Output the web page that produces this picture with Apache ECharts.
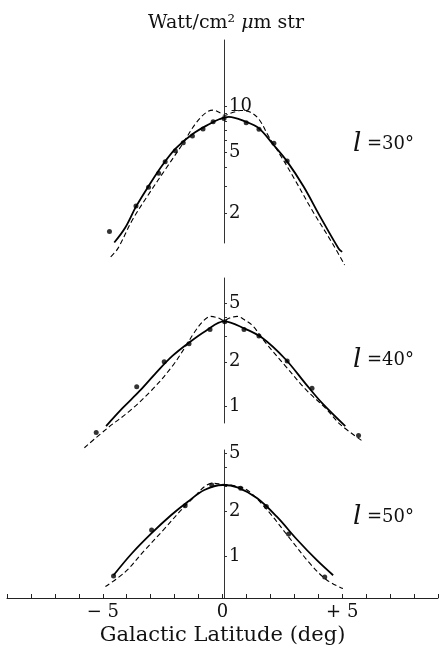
<!DOCTYPE html>
<html>
<head>
<meta charset="utf-8">
<script src="https://cdn.jsdelivr.net/npm/echarts@6.0.0/dist/echarts.min.js"></script>
<style>
  html, body { margin: 0; padding: 0; background: #fff; }
  #chart { width: 441px; height: 655px; }
</style>
</head>
<body>
<div id="chart"></div>
<script>
// galactic latitude axis
const latTicks = [-5, 0, 5]
const latLabels = ['− 5', '0', '+ 5']

// l = 30°
const yTicks30 = [2, 3, 4, 5, 6, 7, 8, 9, 10]
const yLabels30 = [2, 5, 10]
const obs30 = [[-4.75, 1.53], [-3.65, 2.24], [-3.13, 2.97], [-2.71, 3.66], [-2.44, 4.35], [-2.02, 5.13],
  [-1.69, 5.78], [-1.31, 6.39], [-0.87, 7.09], [-0.45, 7.91], [0, 8.3], [0.92, 7.79], [1.45, 7.06],
  [2.07, 5.72], [2.62, 4.39]]
const fit30 = [[-4.55, 1.3], [-4.1, 1.62], [-3.65, 2.22], [-3.1, 3.07], [-2.55, 4.14], [-2.0, 5.31],
  [-1.3, 6.58], [-0.6, 7.64], [-0.2, 8.2], [0.2, 8.5], [0.9, 7.9], [1.45, 7.15], [2.05, 5.6], [2.6, 4.4],
  [3.3, 3.0], [4.0, 1.9], [4.75, 1.19], [4.9, 1.13]]
const model30 = [[-4.7, 1.05], [-4.4, 1.19], [-3.8, 1.82], [-3.1, 2.71], [-2.4, 3.94], [-1.7, 5.72],
  [-1.2, 7.6], [-0.75, 9.05], [-0.45, 9.4], [-0.15, 9.0], [0, 8.7], [0.3, 9.0], [0.7, 9.35], [1.1, 9.1],
  [1.45, 8.2], [1.85, 6.35], [2.3, 4.9], [2.95, 3.3], [3.65, 2.11], [4.5, 1.28], [5.0, 0.93]]

// l = 40°
const yTicks40 = [1, 2, 3, 4, 5]
const yLabels40 = [1, 2, 5]
const obs40 = [[-5.3, 0.66], [-3.62, 1.35], [-2.48, 2.0], [-1.45, 2.65], [-0.58, 3.32], [0.03, 3.75],
  [0.83, 3.32], [1.45, 2.99], [2.62, 2.02], [3.65, 1.32], [5.58, 0.63]]
const fit40 = [[-4.89, 0.73], [-4.2, 0.97], [-3.51, 1.26], [-2.82, 1.68], [-2.14, 2.19], [-1.45, 2.7],
  [-0.76, 3.24], [0, 3.76], [0.83, 3.38], [1.58, 2.91], [2.55, 2.08], [3.38, 1.42], [4.06, 1.05], [5.03, 0.73]]
const model40 = [[-5.79, 0.52], [-4.82, 0.71], [-3.93, 0.92], [-2.96, 1.3], [-2.14, 1.87], [-1.58, 2.56],
  [-1.24, 3.15], [-0.86, 3.79], [-0.55, 4.07], [-0.2, 3.95], [0, 3.8], [0.2, 3.95], [0.55, 4.07],
  [0.86, 3.85], [1.2, 3.5], [1.72, 2.7], [2.55, 1.87], [3.38, 1.3], [4.2, 0.97], [4.82, 0.75], [5.79, 0.57]]

// l = 50°
const yTicks50 = [1, 2, 3, 4, 5]
const yLabels50 = [1, 2, 5]
const obs50 = [[-4.55, 0.73], [-2.96, 1.5], [-1.56, 2.2], [-0.45, 3.04], [0.76, 2.89], [1.83, 2.17],
  [2.76, 1.41], [4.27, 0.72]]
const fit50 = [[-4.55, 0.74], [-3.79, 1.04], [-2.96, 1.43], [-2.14, 1.9], [-1.45, 2.34], [-0.76, 2.81],
  [0, 3.04], [0.62, 2.93], [1.45, 2.47], [2.27, 1.85], [3.1, 1.3], [3.93, 0.94], [4.62, 0.74]]
const model50 = [[-4.89, 0.62], [-4.06, 0.78], [-3.24, 1.1], [-2.41, 1.54], [-1.72, 2.06], [-1.17, 2.53],
  [-0.76, 2.96], [-0.41, 3.12], [0, 3.07], [0.34, 3.04], [1.03, 2.81], [1.86, 2.06], [2.76, 1.35],
  [3.65, 0.89], [4.34, 0.69], [5.03, 0.6]]

const FONT = 'DejaVu Serif'
const INK = '#111'
const GRID_LEFT = 7
const ZERO_X = 224

// 三个面板，共用一条银纬轴
const panels = [
  { label: '30°', top: 40, height: 203, min: 1.29, max: 26.8, labelY: 146,
    ticks: yTicks30, labels: yLabels30, obs: obs30, fit: fit30, model: model30 },
  { label: '40°', top: 278, height: 145, min: 0.766, max: 7.43, labelY: 362,
    ticks: yTicks40, labels: yLabels40, obs: obs40, fit: fit40, model: model40 },
  { label: '50°', top: 450, height: 148, min: 0.518, max: 5.26, labelY: 519,
    ticks: yTicks50, labels: yLabels50, obs: obs50, fit: fit50, model: model50 },
]

const grid = []
const xAxis = []
const yAxis = []
const series = []
const graphic = []

panels.forEach((p, i) => {
  const last = i === panels.length - 1
  grid.push({ left: GRID_LEFT, right: 0, top: p.top, height: p.height })

  xAxis.push({
    type: 'value',
    gridIndex: i,
    min: -9,
    max: 9,
    interval: 1,
    show: last,
    axisLine: { onZero: false, lineStyle: { color: '#222', width: 1 } },
    axisTick: { inside: true, length: 4, lineStyle: { color: '#222' } },
    axisLabel: {
      margin: 5,
      fontFamily: FONT,
      fontSize: 18,
      color: INK,
      formatter: function (v) {
        const k = latTicks.indexOf(v)
        return k < 0 ? '' : latLabels[k]
      },
    },
    splitLine: { show: false },
    name: last ? 'Galactic Latitude (deg)' : '',
    nameLocation: 'middle',
    nameGap: 27,
    nameTextStyle: { fontFamily: FONT, fontSize: 21, color: INK },
  })

  // 纵轴画在银纬 0 处：用负 offset 把左轴挪进来
  yAxis.push({
    type: 'log',
    logBase: 10,
    gridIndex: i,
    min: p.min,
    max: p.max,
    position: 'left',
    offset: GRID_LEFT - ZERO_X,
    axisLine: { show: true, onZero: false, lineStyle: { color: '#333', width: 1 } },
    axisTick: { show: true, inside: true, length: 3, customValues: p.ticks, lineStyle: { color: '#333' } },
    axisLabel: {
      inside: true,
      margin: 5,
      customValues: p.labels,
      fontFamily: FONT,
      fontSize: 18,
      color: INK,
      formatter: function (v) {
        return String(Math.round(v))
      },
    },
    splitLine: { show: false },
    minorTick: { show: false },
  })

  series.push({
    type: 'line',
    xAxisIndex: i,
    yAxisIndex: i,
    data: p.fit,
    smooth: 0.35,
    symbol: 'none',
    clip: false,
    lineStyle: { color: '#000', width: 1.8 },
  })
  series.push({
    type: 'line',
    xAxisIndex: i,
    yAxisIndex: i,
    data: p.model,
    smooth: 0.35,
    symbol: 'none',
    clip: false,
    lineStyle: { color: '#000', width: 1.1, type: [5, 3] },
  })
  series.push({
    type: 'scatter',
    xAxisIndex: i,
    yAxisIndex: i,
    data: p.obs,
    symbolSize: 5,
    clip: false,
    itemStyle: { color: '#000' },
  })

  graphic.push({
    type: 'text',
    left: 353,
    top: p.labelY - 15,
    style: {
      text: '{l|l} =' + p.label,
      fill: INK,
      rich: {
        l: { fontFamily: FONT, fontStyle: 'italic', fontSize: 26, fill: INK },
      },
      fontFamily: FONT,
      fontSize: 18,
    },
  })
})

graphic.push({
  type: 'text',
  left: 148,
  top: 14,
  style: {
    text: 'Watt/cm² {mu|μ}m str',
    fontFamily: FONT,
    fontSize: 19,
    fill: INK,
    rich: { mu: { fontFamily: FONT, fontStyle: 'italic', fontSize: 19, fill: INK } },
  },
})

const chart = echarts.init(document.getElementById('chart'))
chart.setOption({
  animation: false,
  backgroundColor: '#fff',
  grid: grid,
  xAxis: xAxis,
  yAxis: yAxis,
  series: series,
  graphic: graphic,
})
</script>
</body>
</html>
